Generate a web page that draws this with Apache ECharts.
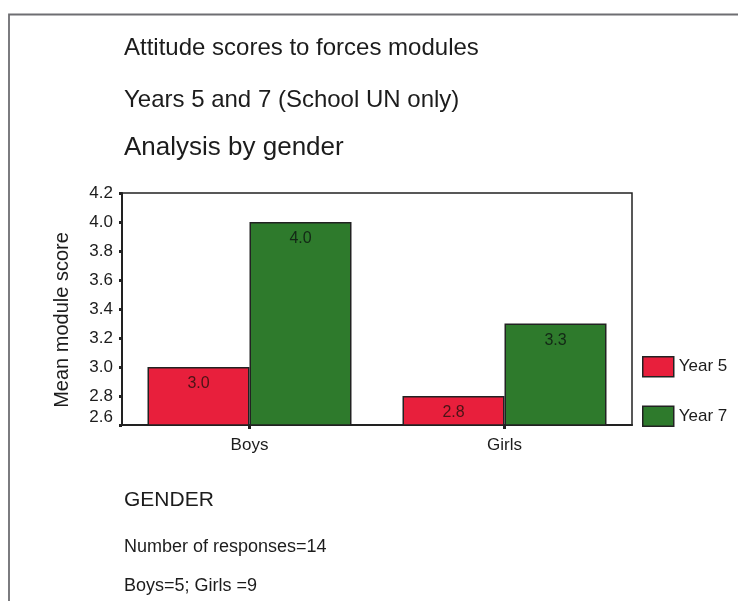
<!DOCTYPE html>
<html>
<head>
<meta charset="utf-8">
<script src="https://cdn.jsdelivr.net/npm/echarts@6/dist/echarts.min.js"></script>
<style>
  html, body { margin: 0; padding: 0; background: #fff; }
  #chart { width: 738px; height: 601px; }
</style>
</head>
<body>
<div id="chart"></div>
<script>
// Mean attitude scores, by gender, for each year group
const categories = ['Boys', 'Girls'];
const year5Scores = [3.0, 2.8];
const year7Scores = [4.0, 3.3];
const seriesNames = ['Year 5', 'Year 7'];

const yMin = 2.6;
const yMax = 4.2;
const yStep = 0.2;

const headingLines = [
  'Attitude scores to forces modules',
  'Years 5 and 7 (School UN only)',
  'Analysis by gender'
];
const footerLines = [
  'GENDER',
  'Number of responses=14',
  'Boys=5; Girls =9'
];

const FONT = '"Liberation Sans", Arial, sans-serif';
const INK = '#1c1c1c';
const RED = '#e81f3c';
const GREEN = '#2e7a2c';

const chart = echarts.init(document.getElementById('chart'), null, { renderer: 'canvas' });

const textBlock = (text, top, size) => ({
  text: text,
  left: 124,
  top: top,
  padding: 0,
  textStyle: { fontFamily: FONT, fontSize: size, fontWeight: 'normal', color: INK, lineHeight: size }
});

chart.setOption({
  backgroundColor: '#ffffff',
  animation: false,
  textStyle: { fontFamily: FONT, color: INK },
  title: [
    textBlock(headingLines[0], 36, 24),
    textBlock(headingLines[1], 88, 24),
    textBlock(headingLines[2], 135, 26),
    textBlock(footerLines[0], 490, 21),
    textBlock(footerLines[1], 538, 18),
    textBlock(footerLines[2], 577, 18)
  ],
  graphic: [
    {
      type: 'polyline',
      silent: true,
      shape: { points: [[9, 601], [9, 14.5], [738, 14.5]] },
      style: { stroke: '#6e6e72', lineWidth: 1.8, fill: null }
    }
  ],
  legend: {
    orient: 'vertical',
    left: 642,
    top: 356,
    padding: 0,
    itemWidth: 31,
    itemHeight: 20,
    itemGap: 28,
    icon: 'rect',
    data: seriesNames,
    itemStyle: { borderColor: '#222', borderWidth: 1.5 },
    textStyle: { fontFamily: FONT, fontSize: 17, color: INK }
  },
  grid: {
    left: 122,
    right: 106,
    top: 193,
    bottom: 176,
    show: true,
    borderColor: '#222',
    borderWidth: 1.5,
    backgroundColor: 'transparent'
  },
  xAxis: {
    type: 'category',
    data: categories,
    axisLine: { show: true, lineStyle: { color: '#222', width: 2 } },
    axisTick: { show: true, alignWithLabel: true, length: 4, lineStyle: { color: '#222', width: 3 } },
    axisLabel: { margin: 12, fontFamily: FONT, fontSize: 17, color: INK },
    splitLine: { show: false }
  },
  yAxis: {
    type: 'value',
    min: yMin,
    max: yMax,
    interval: yStep,
    name: 'Mean module score',
    nameLocation: 'middle',
    nameGap: 50,
    nameRotate: 90,
    nameTextStyle: { fontFamily: FONT, fontSize: 20, color: INK, padding: [0, 22, 0, 0] },
    axisLine: { show: true, lineStyle: { color: '#222', width: 2 } },
    axisTick: { show: true, length: 3, lineStyle: { color: '#222', width: 3 } },
    axisLabel: {
      margin: 9,
      fontFamily: FONT,
      fontSize: 17,
      color: INK,
      formatter: function (v) {
        const s = v.toFixed(1);
        return Math.abs(v - yMin) < 1e-6 ? '{low|' + s + '}' : s;
      },
      rich: {
        low: { fontFamily: FONT, fontSize: 17, color: INK, padding: [0, 0, 16, 0] }
      }
    },
    splitLine: { show: false }
  },
  series: [
    {
      name: seriesNames[0],
      type: 'bar',
      data: year5Scores,
      barWidth: '40%',
      barGap: '0%',
      itemStyle: { color: RED, borderColor: '#222', borderWidth: 1.5 },
      label: {
        show: true,
        position: 'insideTop',
        distance: 9,
        fontFamily: FONT,
        fontSize: 16,
        color: '#4a1416',
        formatter: p => p.value.toFixed(1)
      }
    },
    {
      name: seriesNames[1],
      type: 'bar',
      data: year7Scores,
      barWidth: '40%',
      barGap: '0%',
      itemStyle: { color: GREEN, borderColor: '#222', borderWidth: 1.5 },
      label: {
        show: true,
        position: 'insideTop',
        distance: 9,
        fontFamily: FONT,
        fontSize: 16,
        color: '#132816',
        formatter: p => p.value.toFixed(1)
      }
    }
  ]
});
</script>
</body>
</html>
